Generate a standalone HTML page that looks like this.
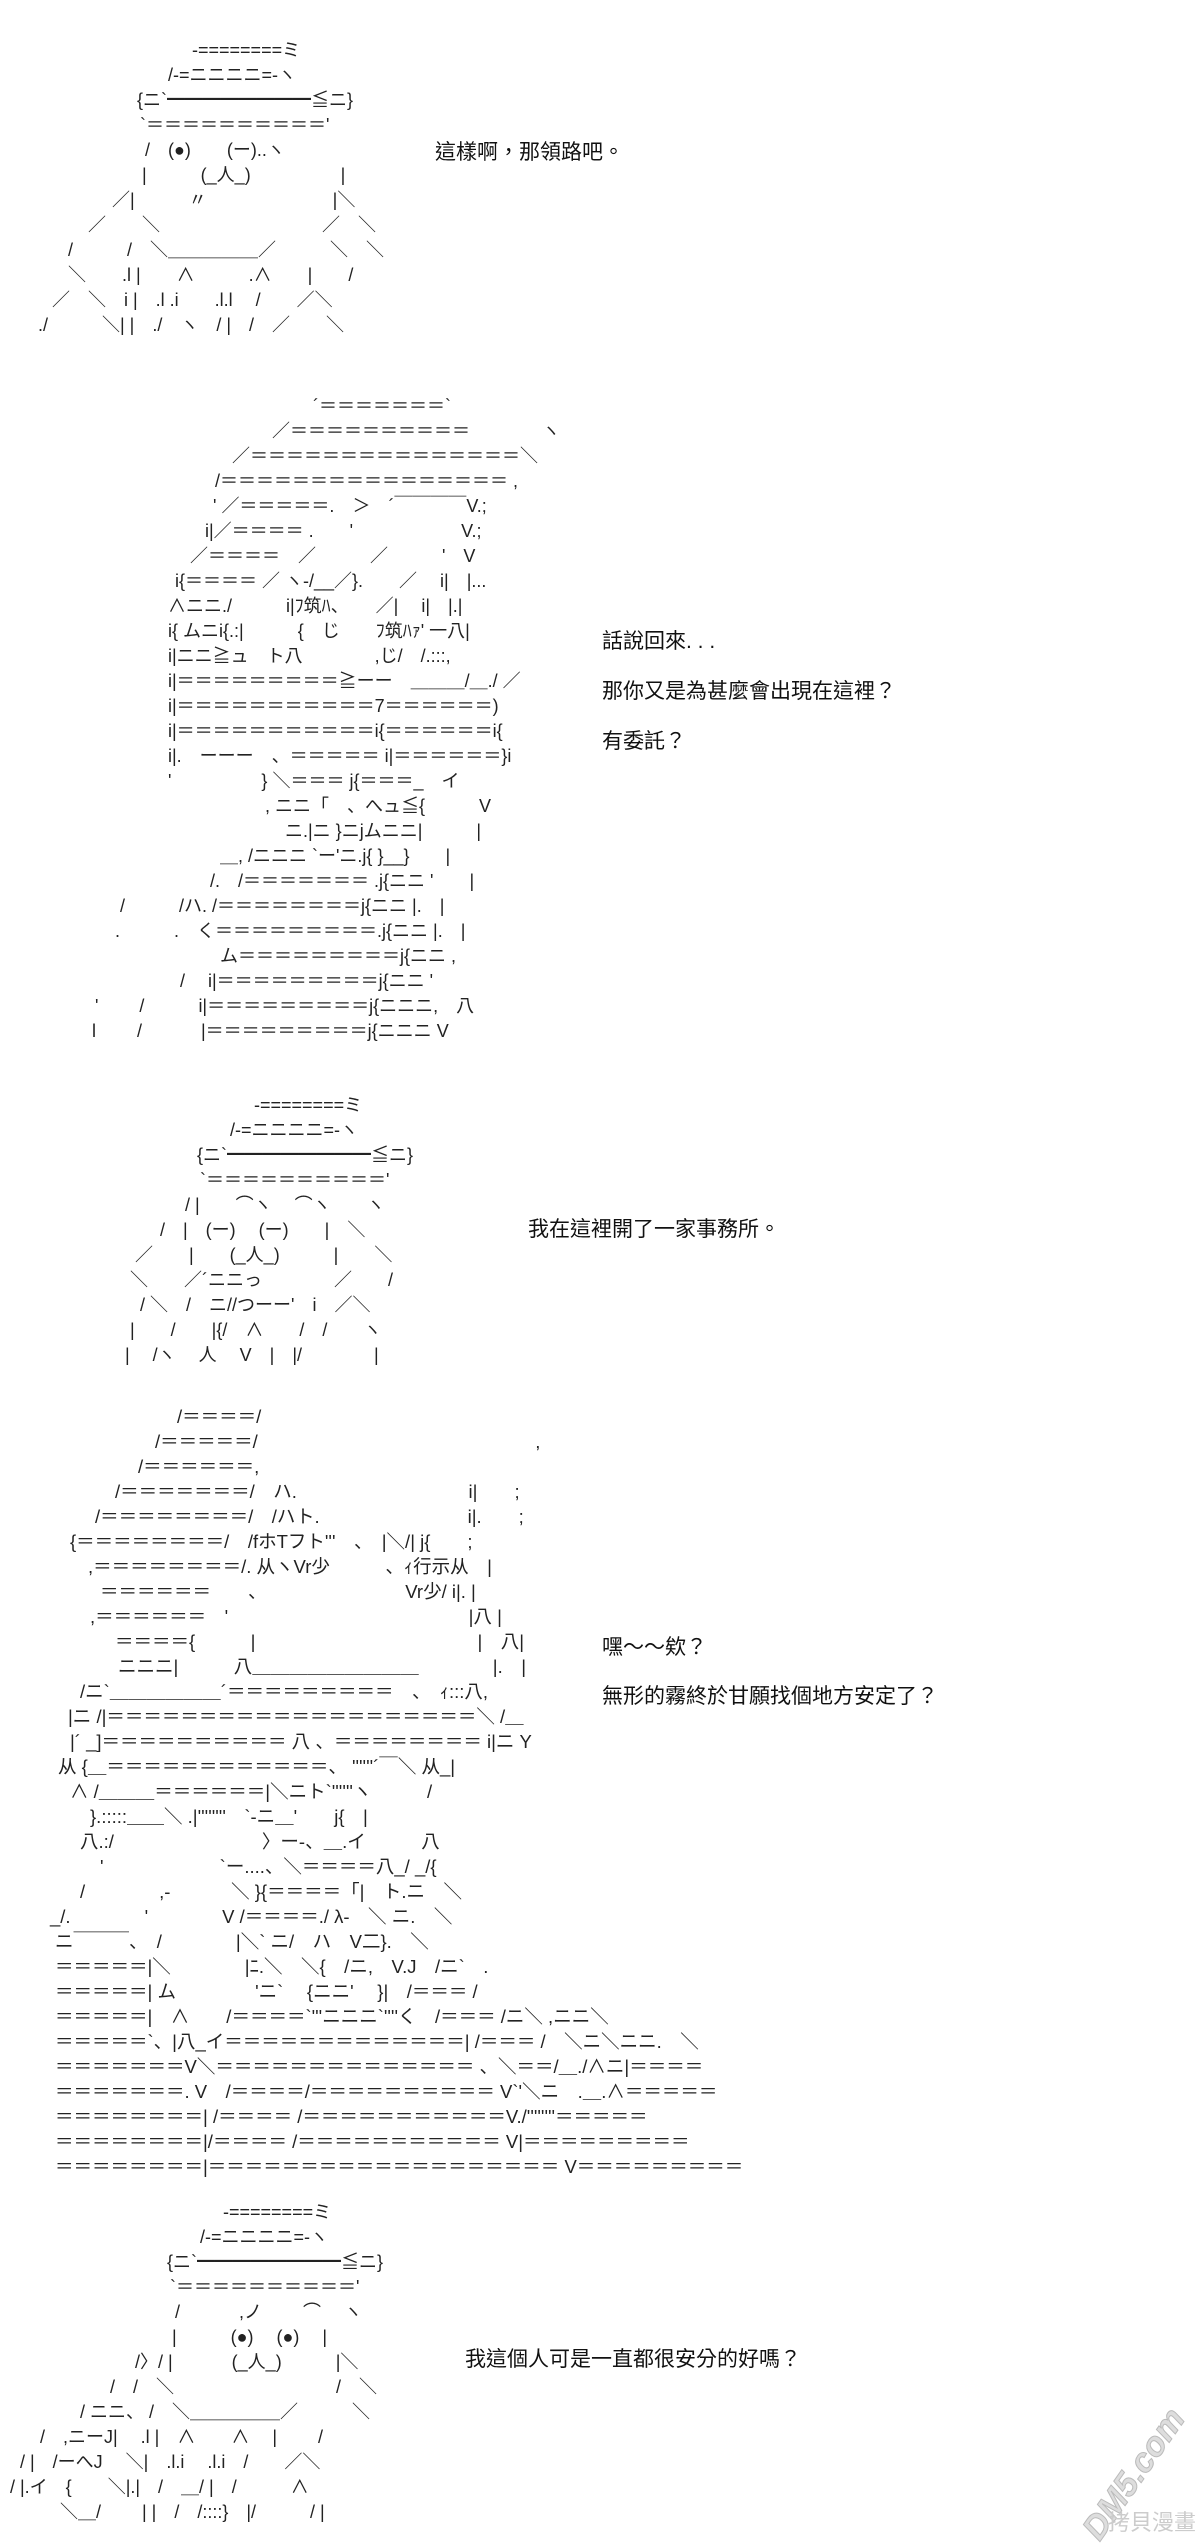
<!DOCTYPE html>
<html><head><meta charset="utf-8">
<style>
html,body{margin:0;padding:0;background:#fff;}
body{width:1200px;height:2547px;position:relative;overflow:hidden;}
.a{position:absolute;left:0;font-family:"Liberation Sans","Noto Sans CJK JP",sans-serif;font-size:18px;line-height:25px;color:#222;}
.a div{height:25px;white-space:pre;}
.t{position:absolute;font-family:"Liberation Sans","Noto Sans CJK TC",sans-serif;font-size:21px;color:#111;white-space:pre;line-height:24px;}
</style></head><body>

<div class="a" style="top:38px">
<div style="margin-left:192px">-========ミ</div>
<div style="margin-left:168px">/-=ニニニニ=-ヽ</div>
<div style="margin-left:137px">{ニ`━━━━━━━━≦ニ}</div>
<div style="margin-left:140px">`＝＝＝＝＝＝＝＝＝＝'</div>
<div style="margin-left:145px">/　(●)　　(ー)..ヽ</div>
<div style="margin-left:142px">|　　　(_人_)　　　　　|</div>
<div style="margin-left:112px">／|　　　〃　　　　　　　|＼</div>
<div style="margin-left:88px">／　　＼　　　　　　　　　／　＼</div>
<div style="margin-left:68px">/　　　/　＼＿＿＿＿＿／　　　＼　＼</div>
<div style="margin-left:68px">＼　　.l |　　∧　　　.∧　　|　　/</div>
<div style="margin-left:52px">／　＼　i |　.l .i　　.l.l　 /　　／＼</div>
<div style="margin-left:38px">./　　　＼| |　./　ヽ　/ |　/　／　　＼</div>
</div>
<div class="t" style="left:435px;top:141px">這樣啊，那領路吧。</div>

<div class="a" style="top:394px">
<div style="margin-left:313px">´＝＝＝＝＝＝＝`</div>
<div style="margin-left:272px">／＝＝＝＝＝＝＝＝＝＝　　　　ヽ</div>
<div style="margin-left:232px">／＝＝＝＝＝＝＝＝＝＝＝＝＝＝＝＼</div>
<div style="margin-left:215px">/＝＝＝＝＝＝＝＝＝＝＝＝＝＝＝＝ ,</div>
<div style="margin-left:213px">' ／＝＝＝＝＝.　＞　´￣￣￣￣V.;</div>
<div style="margin-left:205px">i|／＝＝＝＝ .　　'　　　　　　V.;</div>
<div style="margin-left:190px">／＝＝＝＝　／　　　／　　　'　V</div>
<div style="margin-left:175px">i{＝＝＝＝ ／ ヽ-/__／}.　　／　 i|　|...</div>
<div style="margin-left:168px">∧ニニ./　　　i|ﾌ筑ﾊ、　　／|　 i|　|.|</div>
<div style="margin-left:168px">i{ ムニi{.:|　　　{　じ　　ﾌ筑ﾊｧ' 一八|</div>
<div style="margin-left:168px">i|ニニ≧ュ　ト八　　　　,じ/　/.:::,</div>
<div style="margin-left:168px">i|＝＝＝＝＝＝＝＝＝≧ーー　＿＿＿/＿./ ／</div>
<div style="margin-left:168px">i|＝＝＝＝＝＝＝＝＝＝＝7＝＝＝＝＝＝)</div>
<div style="margin-left:168px">i|＝＝＝＝＝＝＝＝＝＝＝i{＝＝＝＝＝＝i{</div>
<div style="margin-left:168px">i|.　ーーー　、＝＝＝＝＝ i|＝＝＝＝＝＝}i</div>
<div style="margin-left:168px">'　　　　　} ＼＝＝＝ j{＝＝＝_　イ</div>
<div style="margin-left:265px">, ニニ「　、へュ≦{　　　V</div>
<div style="margin-left:285px">ニ.|ニ }ニjムニニ|　　　|</div>
<div style="margin-left:220px">＿, /ニニニ `ー'ニ.j{ }__}　　|</div>
<div style="margin-left:210px">/.　/＝＝＝＝＝＝＝ .j{ニニ '　　|</div>
<div style="margin-left:120px">/　　　/ハ. /＝＝＝＝＝＝＝＝j{ニニ |.　|</div>
<div style="margin-left:115px">.　　　.　く＝＝＝＝＝＝＝＝＝.j{ニニ |.　|</div>
<div style="margin-left:220px">ム＝＝＝＝＝＝＝＝＝j{ニニ ,</div>
<div style="margin-left:180px">/　 i|＝＝＝＝＝＝＝＝＝j{ニニ '</div>
<div style="margin-left:95px">'　　 /　　　i|＝＝＝＝＝＝＝＝＝j{ニニニ,　八</div>
<div style="margin-left:92px">l　　 /　　　 |＝＝＝＝＝＝＝＝＝j{ニニニ V</div>
</div>
<div class="t" style="left:602px;top:630px">話說回來. . .</div>
<div class="t" style="left:602px;top:680px">那你又是為甚麼會出現在這裡？</div>
<div class="t" style="left:602px;top:730px">有委託？</div>

<div class="a" style="top:1093px">
<div style="margin-left:254px">-========ミ</div>
<div style="margin-left:230px">/-=ニニニニ=-ヽ</div>
<div style="margin-left:197px">{ニ`━━━━━━━━≦ニ}</div>
<div style="margin-left:200px">`＝＝＝＝＝＝＝＝＝＝'</div>
<div style="margin-left:185px">/ |　　⌒ヽ　 ⌒ヽ　　ヽ</div>
<div style="margin-left:160px">/　|　(ー)　 (ー)　　|　＼</div>
<div style="margin-left:135px">／　　|　　(_人_)　　　|　　＼</div>
<div style="margin-left:130px">＼　　／´ニニっ　　　　／　　/</div>
<div style="margin-left:140px">/ ＼　/　ニ//つーー'　i　／＼</div>
<div style="margin-left:130px">|　　/　　|{/　∧　　/　/　　ヽ</div>
<div style="margin-left:125px">|　 /ヽ　 人　 V　|　|/　　　　|</div>
</div>
<div class="t" style="left:528px;top:1218px">我在這裡開了一家事務所。</div>

<div class="a" style="top:1404px;font-size:18.5px">
<div style="margin-left:177px">/＝＝＝＝/</div>
<div style="margin-left:155px">/＝＝＝＝＝/　　　　　　　　　　　　　　　,</div>
<div style="margin-left:138px">/＝＝＝＝＝＝,</div>
<div style="margin-left:115px">/＝＝＝＝＝＝＝/　ハ.　　　　　　　　　 i|　　;</div>
<div style="margin-left:95px">/＝＝＝＝＝＝＝＝/　/ハト.　　　　　　　　i|.　　;</div>
<div style="margin-left:70px">{＝＝＝＝＝＝＝＝/　/fホTフト'''　、　|＼/| j{　　;</div>
<div style="margin-left:88px">,＝＝＝＝＝＝＝＝/. 从ヽVr少　　　、ｨ行示从　|</div>
<div style="margin-left:100px">＝＝＝＝＝＝　　、　　　　　　　　Vr少/ i|. |</div>
<div style="margin-left:90px">,＝＝＝＝＝＝　'　　　　　　　　　　　　　|八 |</div>
<div style="margin-left:115px">＝＝＝＝{　　　|　　　　　　　　　　　　|　八|</div>
<div style="margin-left:118px">ニニニ|　　　八＿＿＿＿＿＿＿＿＿　　　　|.　|</div>
<div style="margin-left:80px">/ニ`＿＿＿＿＿＿´＝＝＝＝＝＝＝＝＝　、　ｨ:::八,</div>
<div style="margin-left:68px">|ニ /|＝＝＝＝＝＝＝＝＝＝＝＝＝＝＝＝＝＝＝＝＼ /＿</div>
<div style="margin-left:70px">|´ _]＝＝＝＝＝＝＝＝＝＝ 八 、＝＝＝＝＝＝＝＝ i|ニ Y</div>
<div style="margin-left:58px">从 {＿＝＝＝＝＝＝＝＝＝＝＝＝、 ''''''´￣＼ 从_|</div>
<div style="margin-left:70px">∧ /＿＿＿＝＝＝＝＝＝|＼ニト`''''''ヽ　　　/</div>
<div style="margin-left:90px">}.:::::＿＿＼ .|''''''''　`-ニ＿'　　j{　|</div>
<div style="margin-left:80px">八.:/　　　　　　　　〉ー-、＿.イ　　　八</div>
<div style="margin-left:100px">'　　　　　　 `ー....、＼＝＝＝＝八_/ _/{</div>
<div style="margin-left:80px">/　　　　,-　　　 ＼ }{＝＝＝＝「|　ト.ニ　＼</div>
<div style="margin-left:50px">_/.　　　　'　　　　V /＝＝＝＝./ λ-　＼ ニ.　＼</div>
<div style="margin-left:55px">ニ￣￣￣、　/　　　　|＼` ニ/　ハ　V二}.　＼</div>
<div style="margin-left:55px">＝＝＝＝＝|＼　　　　|ﾆ.＼　＼{　/ニ,　V.J　/ニ`　.</div>
<div style="margin-left:55px">＝＝＝＝＝| ム　　　　 'ニ`　 {ニニ'　 }|　/＝＝＝ /</div>
<div style="margin-left:55px">＝＝＝＝＝|　∧　　/＝＝＝＝`'''ニニニ`''''く　/＝＝＝ /ニ＼ ,ニニ＼</div>
<div style="margin-left:55px">＝＝＝＝＝`、|八_イ＝＝＝＝＝＝＝＝＝＝＝＝＝| /＝＝＝ /　＼ニ＼ニニ.　＼</div>
<div style="margin-left:55px">＝＝＝＝＝＝＝V＼＝＝＝＝＝＝＝＝＝＝＝＝＝＝ 、＼＝＝/＿./∧ニ|＝＝＝＝</div>
<div style="margin-left:55px">＝＝＝＝＝＝＝. V　/＝＝＝＝/＝＝＝＝＝＝＝＝＝＝ V`'＼ニ　.＿.∧＝＝＝＝＝</div>
<div style="margin-left:55px">＝＝＝＝＝＝＝＝| /＝＝＝＝ /＝＝＝＝＝＝＝＝＝＝＝V./''''''''＝＝＝＝＝</div>
<div style="margin-left:55px">＝＝＝＝＝＝＝＝|/＝＝＝＝ /＝＝＝＝＝＝＝＝＝＝＝ V|＝＝＝＝＝＝＝＝＝</div>
<div style="margin-left:55px">＝＝＝＝＝＝＝＝|＝＝＝＝＝＝＝＝＝＝＝＝＝＝＝＝＝＝＝ V＝＝＝＝＝＝＝＝＝</div>
</div>
<div class="t" style="left:602px;top:1636px">嘿～～欸？</div>
<div class="t" style="left:602px;top:1685px">無形的霧終於甘願找個地方安定了？</div>

<div class="a" style="top:2200px">
<div style="margin-left:223px">-========ミ</div>
<div style="margin-left:200px">/-=ニニニニ=-ヽ</div>
<div style="margin-left:167px">{ニ`━━━━━━━━≦ニ}</div>
<div style="margin-left:170px">`＝＝＝＝＝＝＝＝＝＝'</div>
<div style="margin-left:175px">/　　　 ,ノ　　 ⌒　 ヽ</div>
<div style="margin-left:172px">|　　　(●)　 (●)　 |</div>
<div style="margin-left:135px">/〉/ |　　　 (_人_)　　　|＼</div>
<div style="margin-left:110px">/　/　＼　　　　　　　　　/　＼</div>
<div style="margin-left:80px">/ ニニ、 /　＼＿＿＿＿＿／　　　＼</div>
<div style="margin-left:40px">/　,ニーJ|　 .l |　∧　　∧　 |　　 /</div>
<div style="margin-left:20px">/ |　/ーへJ　 ＼|　.l.i　 .l.i　/　　／＼</div>
<div style="margin-left:10px">/ |.イ　{　　＼|.|　/　＿/ |　/　　　∧</div>
<div style="margin-left:60px">＼＿/　　 | |　/　/::::}　|/　　　/ |</div>
</div>
<div class="t" style="left:465px;top:2348px">我這個人可是一直都很安分的好嗎？</div>

<div style="position:absolute;left:1075px;top:2525px;transform:rotate(-55deg);transform-origin:left top;font-family:'Liberation Sans',sans-serif;font-weight:bold;font-style:italic;font-size:34px;color:#ddd;-webkit-text-stroke:1px #bbb;white-space:pre;">DM5.com</div>
<div style="position:absolute;left:1108px;top:2505px;font-family:'Liberation Sans','Noto Sans CJK TC',sans-serif;font-size:22px;color:#ccc;">拷貝漫畫</div>
</body></html>
